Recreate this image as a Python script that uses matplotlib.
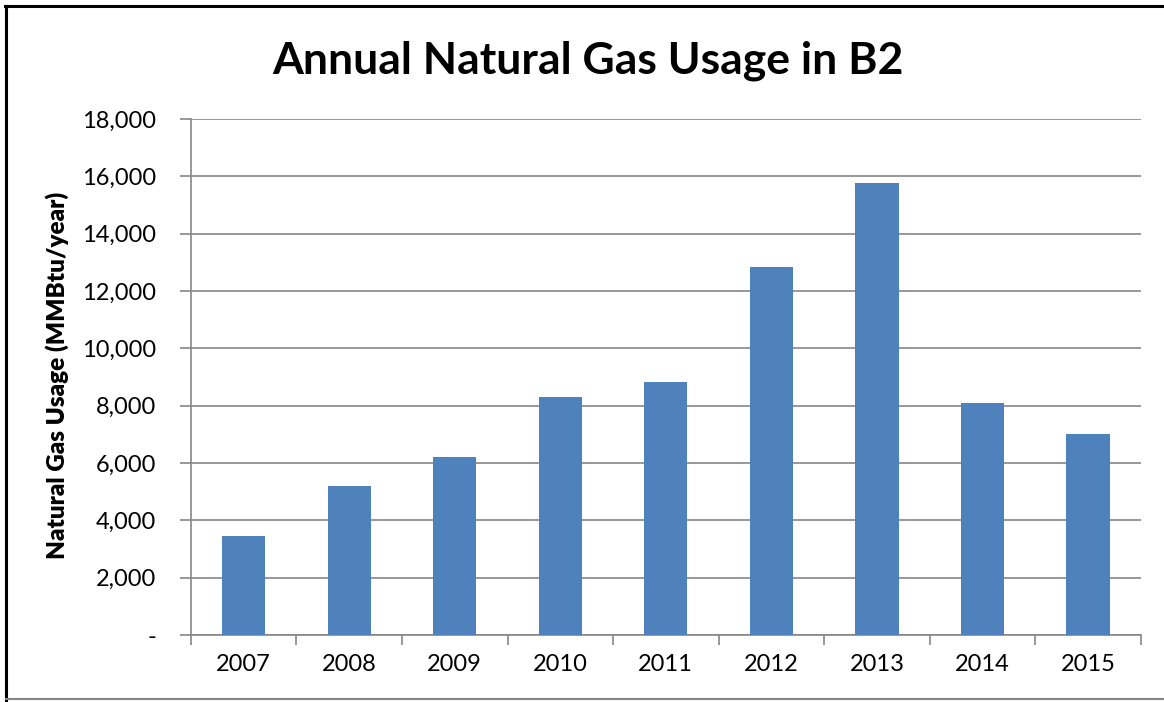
import matplotlib.pyplot as plt
from matplotlib.ticker import FuncFormatter, FixedLocator
from matplotlib.lines import Line2D
import numpy as np

years = ['2007', '2008', '2009', '2010', '2011', '2012', '2013', '2014', '2015']
usage = [3450, 5200, 6200, 8300, 8830, 12850, 15780, 8100, 7020]

plt.rcParams['font.family'] = ['Lato', 'DejaVu Sans']

fig = plt.figure(figsize=(11.64, 7.02), dpi=100)
ax = fig.add_axes([0.164, 0.0954, 0.816, 0.7351])

x = np.arange(len(years))
ax.bar(x, usage, width=0.41, color='#4f81bd', zorder=3)

ax.set_xlim(-0.5, len(years) - 0.5)
ax.set_ylim(0, 18000)
ax.set_yticks(np.arange(0, 18001, 2000))
ax.yaxis.set_major_formatter(FuncFormatter(lambda v, p: '-' if v == 0 else '{:,.0f}'.format(v)))
ax.grid(axis='y', color='#868686', linewidth=1.2, zorder=0)

ax.set_xticks(x)
ax.set_xticklabels(years)
ax.xaxis.set_minor_locator(FixedLocator(np.arange(-0.5, len(years), 1)))
ax.tick_params(axis='x', which='major', length=0, pad=14, labelsize=17)
ax.tick_params(axis='x', which='minor', length=7, width=1.2, color='#868686')
ax.tick_params(axis='y', length=8, width=1.2, color='#868686', labelsize=17, pad=17)

for side in ['top', 'right']:
    ax.spines[side].set_visible(False)
for side in ['left', 'bottom']:
    ax.spines[side].set_color('#868686')
    ax.spines[side].set_linewidth(1.2)

ax.set_ylabel('Natural Gas Usage (MMBtu/year)', fontsize=17.5, fontweight='heavy')
ax.yaxis.set_label_coords(-0.128, 0.504)
fig.text(0.505, 0.914, 'Annual Natural Gas Usage in B2', ha='center', va='center',
         fontsize=32, fontweight='bold')

# chart frame: black left/top, grey bottom
fig.add_artist(Line2D([0.005, 0.005], [0.0, 0.991], transform=fig.transFigure, color='black', linewidth=2.2))
fig.add_artist(Line2D([0.004, 1.0], [0.991, 0.991], transform=fig.transFigure, color='black', linewidth=2.2))
fig.add_artist(Line2D([0.005, 1.0], [0.004, 0.004], transform=fig.transFigure, color='#868686', linewidth=1.5))

fig.savefig('out.png', dpi=100)
